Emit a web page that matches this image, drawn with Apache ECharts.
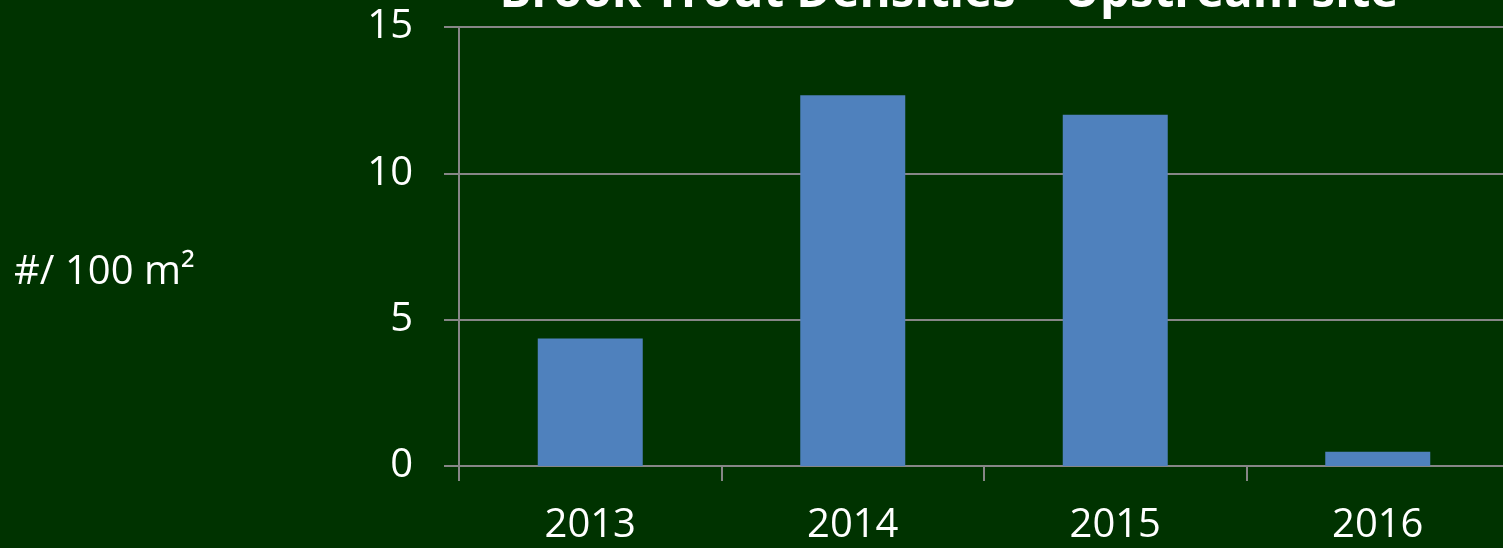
<!DOCTYPE html>
<html>
<head>
<meta charset="utf-8">
<script src="https://cdn.jsdelivr.net/npm/echarts@6/dist/echarts.min.js"></script>
<style>
  html, body { margin: 0; padding: 0; background: #003300; overflow: hidden; }
  /* the drawing runs a few pixels past the right edge of the window */
  #chart { width: 1510px; height: 548px; }
</style>
</head>
<body>
<div id="chart"></div>
<script>
// Brook trout densities at the upstream site, per 100 m²
const years = ['2013', '2014', '2015', '2016'];
const densities = [4.36, 12.67, 12.0, 0.49];
const yTicks = { min: 0, max: 15, interval: 5 };

const FONT = '"Open Sans", "Noto Sans", sans-serif';
const chart = echarts.init(document.getElementById('chart'), null, { renderer: 'canvas' });

chart.setOption({
  backgroundColor: '#003300',
  animation: false,
  title: {
    text: 'Brook Trout Densities – Upstream site',
    left: 944,
    top: -36,
    textAlign: 'center',
    textStyle: { color: '#ffffff', fontFamily: FONT, fontWeight: 'bold', fontSize: 47.5 }
  },
  graphic: [{
    type: 'text',
    left: 14,
    top: 253,
    style: { text: '#/ 100 m²', fill: '#ffffff', font: '40px ' + FONT }
  }],
  grid: { left: 459, top: 27, right: 1, bottom: 82, containLabel: false },
  xAxis: {
    type: 'category',
    data: years,
    axisLine: { lineStyle: { color: '#868686', width: 2 } },
    axisTick: { show: true, length: 15, lineStyle: { color: '#868686', width: 2 } },
    axisLabel: { color: '#ffffff', fontFamily: FONT, fontSize: 40, margin: 40 }
  },
  yAxis: {
    type: 'value',
    min: yTicks.min,
    max: yTicks.max,
    interval: yTicks.interval,
    axisLine: { show: true, lineStyle: { color: '#868686', width: 2 } },
    axisTick: { show: true, length: 15, lineStyle: { color: '#868686', width: 2 } },
    splitLine: { show: true, lineStyle: { color: '#868686', width: 2 } },
    axisLabel: { color: '#ffffff', fontFamily: FONT, fontSize: 40, margin: 46 }
  },
  series: [{
    type: 'bar',
    data: densities,
    barWidth: '40%',
    itemStyle: { color: '#4F81BD' }
  }]
});
</script>
</body>
</html>
